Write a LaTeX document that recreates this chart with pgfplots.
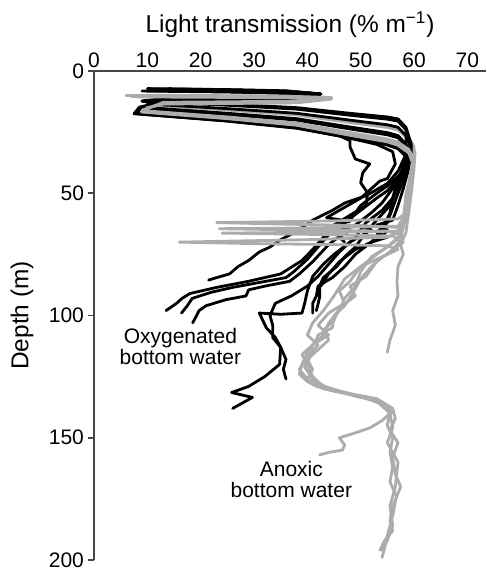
\documentclass[border=0pt]{standalone}
\usepackage{pgfplots}
\pgfplotsset{compat=1.18}
\usepackage{fontspec}
\setmainfont{Liberation Sans}
\definecolor{lgray}{RGB}{172,172,172}
\definecolor{axgray}{RGB}{70,70,70}
\begin{document}
\begin{tikzpicture}
\begin{axis}[
  scale only axis, width=196pt, height=244.5pt,
  xmin=0, xmax=73.5, ymin=0, ymax=200, y dir=reverse,
  axis x line=top, axis y line=left,
  axis line style={-, axgray, line width=0.8pt},
  xtick={0,10,...,70}, ytick={0,50,...,200},
  xtick style={draw=none}, ytick style={axgray, line width=0.8pt},
  tick align=outside, major tick length=3pt,
  /pgf/number format/assume math mode=true,
  tick label style={font=\fontsize{10.5}{12}\selectfont},
  xticklabel style={yshift=-5pt},
  yticklabel style={xshift=1.5pt},
  xlabel={Light transmission (\% m\textsuperscript{−1})},
  ylabel={Depth (m)},
  every axis x label/.style={at={(axis description cs:0.5,1)}, anchor=center, yshift=23pt, font=\fontsize{12.2}{14}\selectfont},
  every axis y label/.style={at={(axis description cs:0,0.5)}, anchor=center, rotate=90, yshift=36pt, font=\fontsize{12.2}{14}\selectfont},
  blk/.style={black, line width=1.4pt, line join=round, line cap=round},
  gry/.style={lgray, line width=1.4pt, line join=round, line cap=round},
]
% gray profiles, upper parts (first half)
\addplot[gry] coordinates {(9,10.3) (25,10.5) (38,10.7) (44.5,11.2) (38,12.7) (25,13) (13,13.2) (11,15) (9.5,16.4) (25,19.0) (38,21.6) (48,25.6) (55,28.2) (57,29.5) (59,32.5) (60,37) (59.5,45) (59,52) (58.8,55)};
\addplot[gry] coordinates {(10,9.9) (25,10.1) (38,10.3) (44.5,10.8) (38,12.1) (25,12.4) (13,12.6) (11,14) (25,16) (38,18) (48,21.1) (55,23.1) (57,24.1) (59,28) (60.2,33) (60,40) (59.6,48) (59.2,55)};
\addplot[gry] coordinates {(12,10.2) (25,10.4) (38,10.6) (44.5,11.1) (38,12.4) (25,12.7) (13,12.9) (10,13.7) (25,15.6) (38,17.6) (48,20.5) (55,22.4) (57,23.4) (59,27) (60,31) (59.8,37) (59.3,44) (58.8,50) (58.6,55)};
% black profiles
\addplot[blk] coordinates {(10,7.2) (25,7.6) (36,8.1) (42.5,9.4) (36,11.6) (25,12) (14,12.2) (8.5,14.8) (7.5,17.5) (25,20.4) (38,23.3) (46,26.5) (48,28.5) (48,31) (49,36) (51.7,38) (50.4,41.6) (50,45.7) (51.3,49.8) (51,55) (48,59) (45,63) (43,68) (41,73) (39,77.5) (35,83) (29,86) (23,88.5) (18,91) (16.5,93) (15.5,95) (13.5,98)};
\addplot[blk] coordinates {(12,7.5) (25,7.9) (36,8.4) (42.5,9.4) (36,10.8) (25,11.2) (14,11.4) (10,12) (25,13.5) (38,15) (48,17.3) (55,18.8) (57,19.6) (58.5,23.1) (59.5,30) (58.5,37) (57,44) (55,49) (53,52) (50,57) (47,62) (44,67) (42,72) (40,77) (37.5,82) (36,84.5) (31,86.5) (26,88.5) (22,90.5) (18.4,93) (17.5,96) (16.4,99)};
\addplot[blk] coordinates {(11,7.8) (25,8.2) (36,8.7) (42.5,9.4) (36,11.2) (25,11.6) (14,11.8) (11,13.4) (10,15) (25,17.3) (38,19.5) (48,22.9) (55,25.2) (57,26.4) (58.5,30) (58.5,35) (57.5,42) (55,47) (53,50) (50,55) (48,61) (44,64) (47,66) (44,71) (41,78) (38.5,83) (36.7,86) (32,88) (29,89.5) (28.5,92) (24.8,93.5) (21,96) (19.7,98) (19,101) (18.5,103)};
\addplot[blk] coordinates {(14,7.3) (25,7.7) (36,8.2) (42.5,9.4) (36,10.7) (25,11.1) (14,11.3) (9,12.2) (25,13.8) (38,15.3) (48,17.7) (55,19.3) (57,20.1) (58.5,23.6) (58.5,34) (57,41) (55,46) (51,51) (47,54) (44.7,57) (41,61) (39,64) (37,66.7) (35,69) (33,72) (31,74) (29,77.5) (27,80) (25.4,83) (23,84.5) (21.5,85.5)};
\addplot[blk] coordinates {(13,8) (25,8.4) (36,8.9) (42.5,9.4) (36,11) (25,11.4) (14,11.6) (11,15.2) (25,17.5) (38,19.8) (48,23.3) (55,25.6) (57,26.8) (58.5,30.3) (59.5,33) (58,40) (56,48) (54,54) (52,58) (49,63) (52,65) (48,70) (45,75) (43,79) (41,84) (40,90) (39.5,95) (39,99) (35,99.5) (31,99) (32.3,105) (34,109) (35,113) (34.8,120) (32,125) (29,129) (25.8,131.5) (29.7,133.5) (26,138)};
\addplot[blk] coordinates {(12,7.6) (25,8) (36,8.5) (42.5,9.4) (36,11.4) (25,11.8) (14,12) (11,14) (10,17.2) (25,20.0) (38,22.8) (48,27.1) (55,29.9) (57,31.3) (58.5,34.5) (59,38) (57.5,45) (56,52) (54,57) (51,62) (49,68) (46,74) (44,79) (42,84) (40,88) (37,92) (34,95) (33,100) (33.5,104) (33.5,109) (35,113) (36,118) (35.5,122) (36,126)};
\addplot[blk] coordinates {(11,7.4) (25,7.8) (36,8.3) (42.5,9.4) (36,10.9) (25,11.3) (14,11.5) (9,12.4) (25,14.0) (38,15.6) (48,18.1) (55,19.7) (57,20.5) (58.5,24) (59.5,31) (58.5,39) (57,47) (55.5,55) (53,61) (51,66) (49,72) (47,76) (45.5,80) (43,84.5) (42.3,88) (42.3,92.6) (41.7,98)};
\addplot[blk] coordinates {(9,8.2) (25,8.6) (36,9.1) (42.5,9.4) (36,11.7) (25,12.1) (14,12.3) (9,14.6) (8,17.4) (25,20.3) (38,23.1) (48,27.4) (55,30.3) (57,31.8) (58.5,35) (58.8,38) (57,44) (56,52) (55.5,58) (54,65) (52,70) (49,75) (47,80) (44.7,84.5) (42,88) (41.7,92) (41,95) (41,99)};
\addplot[blk] coordinates {(12,7.9) (25,8.3) (36,8.8) (42.5,9.4) (36,11.3) (25,11.7) (14,11.9) (10.5,13.7) (9.5,15.4) (25,17.8) (38,20.1) (48,23.7) (55,26.1) (57,27.3) (58.5,30.8) (59,36) (58,45) (57,50) (56,56) (55,62) (53,66) (55,68) (52,70) (49,73) (46,78) (44,83) (42.5,88)};
\addplot[blk] coordinates {(14,7.7) (25,8.1) (36,8.6) (42.5,9.4) (36,10.9) (25,11.3) (14,11.5) (10,13.5) (25,15.4) (38,17.3) (48,20.1) (55,22.0) (57,23) (58.5,26.5) (59.5,32) (59,40) (58,48) (57,55) (56,61) (53,63) (55,65) (54,68) (52,70) (50,73)};
\addplot[blk] coordinates {(11,8.1) (25,8.5) (36,9) (42.5,9.4) (36,11.5) (25,11.9) (14,12.1) (10,14.3) (9,17.6) (25,20.5) (38,23.4) (47,27) (53,30) (56,33) (56.5,38) (55,44) (53.6,45) (50,52) (46,57) (43.6,60) (48,61.5) (45,63) (48,65) (46,68) (47,70)};
% gray profiles, upper parts (second half)
\addplot[gry] coordinates {(6,10) (25,10.2) (38,10.4) (44.5,10.9) (38,12.3) (25,12.6) (13,12.8) (9,16.2) (25,18.8) (38,21.3) (48,25.2) (55,27.8) (57,29.1) (59,32) (60,36) (59.5,42) (59,50) (58.8,55)};
\addplot[gry] coordinates {(8,10.6) (25,10.8) (38,11) (44.5,11.5) (38,13) (25,13.3) (13,13.5) (10,15) (9,16.6) (25,19.3) (38,21.9) (48,26) (55,28.6) (57,30) (59,33) (59.8,36) (59.5,40) (59,46) (58.5,50) (58.3,55)};
\addplot[gry] coordinates {(7,10.4) (25,10.6) (38,10.8) (44.5,11.3) (38,12.9) (25,13.2) (13,13.4) (10,15.2) (9,16.8) (25,19.5) (38,22.2) (48,26.3) (55,29) (57,30.4) (59,33.5) (59.8,38) (59.2,45) (58.6,52) (58.5,55)};
% gray profiles, lower parts
\addplot[gry] coordinates {(58.8,55) (58,62) (57,66) (55,68) (40,69) (25,69.6) (16,70) (30,70.6) (45,71) (55,71.5) (57,73) (54,76) (52,80) (50,85) (48.5,91) (47,96) (45,100) (44.7,105) (42,108) (41.7,110) (40,115) (39,120) (38.5,124) (40,127) (41.7,129) (45,131) (50,133) (53.6,136) (55.5,139) (55,145) (56,150) (55.5,156) (56,162) (55.5,168) (56.7,174) (56,182) (55,190) (54.5,195) (54,199)};
\addplot[gry] coordinates {(58.8,55) (58.5,58) (57,60.5) (45,61.3) (30,61.8) (23,62) (35,62.6) (50,63.2) (57,64) (58,68) (56,73) (53,78) (51,84) (48,88) (49,92) (46,97) (45,102) (43,106) (44,110) (42,114) (40,118) (41,122) (40,126) (43,130) (48,132) (53,134) (56,138) (56.5,142) (55.5,147) (57,152) (56,158) (56.5,165) (57.5,170) (56,178) (55.5,184) (56,188) (54.5,192) (53.6,196)};
\addplot[gry] coordinates {(58.3,55) (58,60) (57,63.5) (40,64.2) (23.5,64.5) (38,65) (55,65.5) (57.5,67) (55,72) (52,76) (50,82) (49,88) (47,93) (46,98) (44,103) (43,108) (41,112) (40.5,117) (39.5,121) (41,126) (44,130) (49,133) (54,135.5) (55.5,140) (54,143) (51.7,146) (49,148) (46,150) (47,153) (46.6,155) (44,156) (42.3,157)};
\addplot[gry] coordinates {(59.2,55) (59,58) (58.5,66) (57.5,71) (58,75) (57,80) (56.8,86) (57,92) (56,98) (56.5,104) (55.5,110) (55,115)};
\addplot[gry] coordinates {(58.5,55) (58,62) (57,65.5) (40,66) (24,66.3) (40,66.8) (56,67.5) (58,70) (55,75) (50,80) (48,86) (46,90) (47,95) (44,99) (42,104) (44,108) (41,112) (39,116) (40,120) (41,125) (43,129) (48,132) (53,135) (55.5,140) (56,146) (55,152) (57,160) (56.5,170) (55.5,178) (56,186) (55,192) (54,196)};
\addplot[gry] coordinates {(58.6,55) (58.5,60) (57.5,68) (53,75) (50,80) (47,85) (45,92) (43,98) (41,103) (40,108) (42,112) (40,117) (38.5,122) (40,126) (42,128) (46,131) (52,134) (55,137) (56,140)};
\node[align=center, font=\fontsize{10.5}{10.5}\selectfont] at (axis cs:16.2,112.5) {Oxygenated\\bottom water};
\node[align=center, font=\fontsize{10.5}{10.5}\selectfont] at (axis cs:37,167) {Anoxic\\bottom water};
\end{axis}
\pgfresetboundingbox
\path ([xshift=-47pt,yshift=-5pt]current axis.south west) rectangle ([yshift=35.5pt]current axis.north east);
\end{tikzpicture}
\end{document}
